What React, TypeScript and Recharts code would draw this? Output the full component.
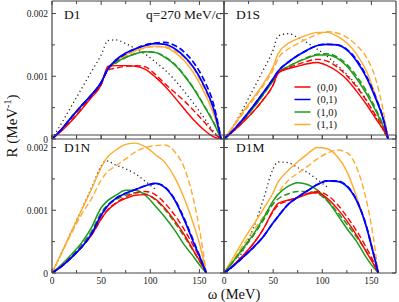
import React from 'react';
import { LineChart, Line, XAxis, YAxis } from 'recharts';

// omega grids (MeV) for each panel
const omegaD1 = [0, 10, 20, 30, 40, 50, 57, 65, 75, 85, 95, 105, 115, 125, 135, 145, 155, 165, 172];
const omegaD1S = [0, 10, 20, 30, 40, 50, 55, 65, 75, 85, 95, 105, 115, 125, 135, 145, 155, 162, 167];
const omegaLow = [0, 10, 20, 30, 40, 50, 55, 65, 75, 85, 95, 105, 115, 125, 135, 145, 150, 157];

// response R in units of 1e-3 MeV^-1
// D1
const d1Red = [0, 0.13, 0.29, 0.47, 0.66, 0.86, 1.16, 1.17, 1.17, 1.16, 1.11, 0.99, 0.84, 0.66, 0.47, 0.29, 0.14, 0.03, 0];
const d1RedDash = [0, 0.14, 0.3, 0.48, 0.67, 0.87, 1.1, 1.13, 1.16, 1.17, 1.15, 1.03, 0.88, 0.74, 0.6, 0.44, 0.27, 0.09, 0];
const d1Blue = [0, 0.16, 0.35, 0.53, 0.7, 0.9, 1.12, 1.26, 1.37, 1.44, 1.49, 1.52, 1.51, 1.44, 1.31, 1.12, 0.84, 0.45, 0];
const d1BlueDash = [0, 0.16, 0.35, 0.53, 0.7, 0.9, 1.12, 1.25, 1.36, 1.44, 1.5, 1.53, 1.54, 1.49, 1.38, 1.2, 0.93, 0.52, 0];
const d1Green = [0, 0.16, 0.35, 0.53, 0.7, 0.9, 1.12, 1.22, 1.3, 1.36, 1.39, 1.38, 1.3, 1.18, 1.0, 0.78, 0.52, 0.24, 0];
const d1GreenDash = [0, 0.16, 0.35, 0.53, 0.7, 0.9, 1.12, 1.21, 1.3, 1.36, 1.39, 1.38, 1.31, 1.19, 1.01, 0.79, 0.53, 0.25, 0];
const d1Orange = [0, 0.16, 0.35, 0.53, 0.7, 0.9, 1.12, 1.24, 1.34, 1.41, 1.46, 1.48, 1.46, 1.38, 1.24, 1.03, 0.74, 0.37, 0];
const d1OrangeDash = [0, 0.16, 0.35, 0.53, 0.7, 0.9, 1.1, 1.22, 1.32, 1.4, 1.45, 1.47, 1.47, 1.41, 1.29, 1.1, 0.8, 0.42, 0];
const d1Dot = [0, 0.26, 0.53, 0.8, 1.07, 1.34, 1.57, 1.58, 1.52, 1.44, 1.35, 1.23, 1.1, 0.94, 0.75, 0.55, 0.33, 0.11, 0];

// D1S
const d1sRed = [0, 0.13, 0.28, 0.44, 0.63, 0.86, 1.05, 1.12, 1.16, 1.2, 1.22, 1.17, 1.08, 0.95, 0.76, 0.55, 0.31, 0.15, 0];
const d1sRedDash = [0, 0.13, 0.28, 0.44, 0.63, 0.86, 1.05, 1.13, 1.19, 1.24, 1.27, 1.24, 1.15, 1.01, 0.83, 0.61, 0.36, 0.18, 0];
const d1sBlue = [0, 0.15, 0.33, 0.53, 0.74, 0.96, 1.08, 1.22, 1.33, 1.42, 1.49, 1.51, 1.5, 1.42, 1.24, 0.98, 0.62, 0.32, 0];
const d1sBlueDash = [0, 0.15, 0.33, 0.53, 0.74, 0.96, 1.08, 1.22, 1.33, 1.42, 1.49, 1.51, 1.5, 1.43, 1.26, 1.0, 0.64, 0.33, 0];
const d1sGreen = [0, 0.14, 0.31, 0.5, 0.71, 0.93, 1.05, 1.15, 1.23, 1.29, 1.34, 1.34, 1.29, 1.16, 0.96, 0.72, 0.43, 0.2, 0];
const d1sGreenDash = [0, 0.14, 0.31, 0.5, 0.71, 0.93, 1.05, 1.15, 1.23, 1.3, 1.35, 1.36, 1.31, 1.19, 1.0, 0.76, 0.46, 0.22, 0];
const d1sOrange = [0, 0.22, 0.45, 0.66, 0.88, 1.15, 1.36, 1.52, 1.6, 1.66, 1.7, 1.7, 1.64, 1.53, 1.35, 1.08, 0.66, 0.32, 0];
const d1sOrangeDash = [0, 0.2, 0.42, 0.63, 0.85, 1.1, 1.28, 1.43, 1.52, 1.6, 1.67, 1.71, 1.69, 1.62, 1.49, 1.3, 0.92, 0.45, 0];
const d1sDot = [0, 0.22, 0.5, 0.8, 1.1, 1.42, 1.64, 1.68, 1.62, 1.53, 1.43, 1.32, 1.18, 1.03, 0.85, 0.62, 0.33, 0.14, 0];

// D1N
const d1nRed = [0, 0.11, 0.25, 0.41, 0.6, 0.86, 0.97, 1.11, 1.19, 1.24, 1.25, 1.18, 1.03, 0.83, 0.6, 0.33, 0.2, 0];
const d1nRedDash = [0, 0.11, 0.25, 0.41, 0.6, 0.86, 0.98, 1.12, 1.21, 1.28, 1.3, 1.25, 1.11, 0.92, 0.68, 0.4, 0.25, 0];
const d1nBlue = [0, 0.11, 0.25, 0.41, 0.62, 0.92, 1.04, 1.19, 1.27, 1.33, 1.39, 1.43, 1.36, 1.16, 0.83, 0.45, 0.27, 0];
const d1nBlueDash = [0, 0.11, 0.25, 0.41, 0.62, 0.92, 1.04, 1.19, 1.27, 1.33, 1.39, 1.43, 1.37, 1.17, 0.85, 0.47, 0.28, 0];
const d1nGreen = [0, 0.14, 0.3, 0.48, 0.72, 1.04, 1.13, 1.24, 1.32, 1.32, 1.24, 1.07, 0.89, 0.68, 0.44, 0.24, 0.13, 0];
const d1nGreenDash = [0, 0.13, 0.28, 0.45, 0.66, 0.96, 1.06, 1.17, 1.24, 1.28, 1.26, 1.17, 1.01, 0.8, 0.57, 0.32, 0.19, 0];
const d1nOrange = [0, 0.33, 0.67, 1.0, 1.33, 1.68, 1.82, 1.96, 2.05, 2.07, 2.01, 1.89, 1.76, 1.52, 1.17, 0.73, 0.47, 0];
const d1nOrangeDash = [0, 0.32, 0.64, 0.93, 1.18, 1.48, 1.59, 1.71, 1.82, 1.93, 2.0, 2.03, 2.04, 1.93, 1.66, 1.1, 0.7, 0];
const d1nDot = [0, 0.33, 0.67, 1.01, 1.35, 1.7, 1.79, 1.72, 1.66, 1.58, 1.46, 1.34, null, null, null, null, null, null];

// D1M
const d1mRed = [0, 0.13, 0.29, 0.47, 0.7, 1.0, 1.11, 1.16, 1.2, 1.26, 1.28, 1.19, 1.03, 0.83, 0.6, 0.33, 0.2, 0];
const d1mRedDash = [0, 0.13, 0.29, 0.47, 0.7, 0.98, 1.08, 1.15, 1.21, 1.27, 1.3, 1.24, 1.1, 0.9, 0.67, 0.4, 0.25, 0];
const d1mBlue = [0, 0.12, 0.26, 0.41, 0.58, 0.8, 0.9, 1.09, 1.21, 1.31, 1.41, 1.47, 1.46, 1.38, 1.15, 0.73, 0.43, 0];
const d1mBlueDash = [0, 0.12, 0.26, 0.41, 0.58, 0.8, 0.9, 1.09, 1.21, 1.31, 1.41, 1.47, 1.47, 1.39, 1.16, 0.74, 0.44, 0];
const d1mGreen = [0, 0.2, 0.41, 0.62, 0.87, 1.15, 1.25, 1.38, 1.44, 1.41, 1.32, 1.16, 0.94, 0.71, 0.5, 0.24, 0.13, 0];
const d1mGreenDash = [0, 0.19, 0.39, 0.6, 0.84, 1.1, 1.18, 1.26, 1.3, 1.3, 1.27, 1.15, 0.98, 0.78, 0.57, 0.34, 0.21, 0];
const d1mOrange = [0, 0.26, 0.53, 0.77, 1.02, 1.28, 1.45, 1.63, 1.77, 1.9, 2.0, 1.98, 1.86, 1.62, 1.21, 0.73, 0.47, 0];
const d1mOrangeDash = [0, 0.22, 0.46, 0.68, 0.9, 1.14, 1.27, 1.47, 1.59, 1.7, 1.82, 1.91, 1.96, 1.92, 1.68, 1.15, 0.76, 0];
const d1mDot = [0, 0.12, 0.38, 0.72, 1.17, 1.66, 1.77, 1.76, 1.68, 1.6, 1.49, 1.37, null, null, null, null, null, null];

const xTicks = [0, 25, 50, 75, 100, 125, 150];
const yTicks = [0, 0.5, 1, 1.5, 2];
const legendLabels = ['(0,0)', '(0,1)', '(1,0)', '(1,1)'];

const RED = '#ff0000';
const BLUE = '#0000ff';
const GREEN = '#1f9a1f';
const ORANGE = '#ffab2e';
const FRAME = '#444';
const FONT = '"Liberation Serif", "Times New Roman", serif';

// drawing order: dotted first, blue on top
const seriesStyle = [
  { key: 'dot', color: '#222', dash: '1.2 3', width: 1.3 },
  { key: 'orangeDash', color: ORANGE, dash: '6 3', width: 1.4 },
  { key: 'orange', color: ORANGE, dash: undefined, width: 1.4 },
  { key: 'greenDash', color: GREEN, dash: '6 3', width: 1.5 },
  { key: 'green', color: GREEN, dash: undefined, width: 1.5 },
  { key: 'redDash', color: RED, dash: '6 3', width: 1.4 },
  { key: 'red', color: RED, dash: undefined, width: 1.4 },
  { key: 'blueDash', color: BLUE, dash: '6 3', width: 1.7 },
  { key: 'blue', color: BLUE, dash: undefined, width: 1.7 },
];

const makeRows = (omega: number[], s: Record<string, (number | null)[]>) =>
  omega.map((w, i) => {
    const row: Record<string, number | null> = { w };
    Object.keys(s).forEach((k) => (row[k] = s[k][i]));
    return row;
  });

const panels = [
  {
    name: 'D1', left: 0, top: -3, showX: false, showY: true,
    rows: makeRows(omegaD1, { red: d1Red, redDash: d1RedDash, blue: d1Blue, blueDash: d1BlueDash, green: d1Green, greenDash: d1GreenDash, orange: d1Orange, orangeDash: d1OrangeDash, dot: d1Dot }),
  },
  {
    name: 'D1S', left: 172, top: -3, showX: false, showY: false,
    rows: makeRows(omegaD1S, { red: d1sRed, redDash: d1sRedDash, blue: d1sBlue, blueDash: d1sBlueDash, green: d1sGreen, greenDash: d1sGreenDash, orange: d1sOrange, orangeDash: d1sOrangeDash, dot: d1sDot }),
  },
  {
    name: 'D1N', left: 0, top: 131, showX: true, showY: true,
    rows: makeRows(omegaLow, { red: d1nRed, redDash: d1nRedDash, blue: d1nBlue, blueDash: d1nBlueDash, green: d1nGreen, greenDash: d1nGreenDash, orange: d1nOrange, orangeDash: d1nOrangeDash, dot: d1nDot }),
  },
  {
    name: 'D1M', left: 172, top: 131, showX: true, showY: false,
    rows: makeRows(omegaLow, { red: d1mRed, redDash: d1mRedDash, blue: d1mBlue, blueDash: d1mBlueDash, green: d1mGreen, greenDash: d1mGreenDash, orange: d1mOrange, orangeDash: d1mOrangeDash, dot: d1mDot }),
  },
];

// each axis box is 1px, so plot area = 172 x 134 starting at (52, 4) inside each chart
const MARGIN = { top: 3, right: 3, bottom: 29, left: 51 };
const PLOT_W = 172;
const PLOT_H = 134;

const majorX = (v: number) => v % 50 === 0;
const majorY = (v: number) => v % 1 === 0;
const yLabel = (v: number) => (v === 0 ? '0' : (v / 1000).toFixed(3));
const frameLine = { stroke: FRAME, strokeWidth: 1.2 };

const Panel = ({ p }: { p: (typeof panels)[number] }) => (
  <div style={{ position: 'absolute', left: p.left, top: p.top }}>
    <LineChart width={PLOT_W + 56} height={PLOT_H + 38} data={p.rows} margin={MARGIN}>
      <XAxis xAxisId="b" type="number" dataKey="w" domain={[0, 175]} ticks={xTicks} height={1} tickSize={0} tickMargin={0}
        axisLine={frameLine} tickLine={false} allowDataOverflow interval={0}
        tick={(t: any) => (
          <g>
            <line x1={t.x} x2={t.x} y1={t.y} y2={t.y - (majorX(t.payload.value) ? 4 : 3)} stroke={FRAME} />
            {p.showX && majorX(t.payload.value) && (
              <text x={t.x} y={t.y + 11} textAnchor="middle" fontSize={9.5} fontFamily={FONT} fill="#222">{t.payload.value}</text>
            )}
          </g>
        )} />
      <XAxis xAxisId="t" orientation="top" type="number" dataKey="w" domain={[0, 175]} ticks={xTicks} height={1} tickSize={0} tickMargin={0}
        axisLine={frameLine} tickLine={false} allowDataOverflow interval={0}
        tick={(t: any) => (
          <line x1={t.x} x2={t.x} y1={t.y} y2={t.y + (majorX(t.payload.value) ? 4 : 3)} stroke={FRAME} />
        )} />
      <YAxis yAxisId="l" type="number" domain={[0, 2.2]} ticks={yTicks} width={1} tickSize={0} tickMargin={0}
        axisLine={frameLine} tickLine={false} allowDataOverflow interval={0}
        tick={(t: any) => (
          <g>
            <line x1={t.x} x2={t.x + (majorY(t.payload.value) ? 4 : 3)} y1={t.y} y2={t.y} stroke={FRAME} />
            {p.showY && majorY(t.payload.value) && (
              <text x={t.x - 4} y={t.y + 3.6} textAnchor="end" fontSize={9.5} fontFamily={FONT} fill="#222">{yLabel(t.payload.value)}</text>
            )}
          </g>
        )} />
      <YAxis yAxisId="r" orientation="right" type="number" domain={[0, 2.2]} ticks={yTicks} width={1} tickSize={0} tickMargin={0}
        axisLine={frameLine} tickLine={false} allowDataOverflow interval={0}
        tick={(t: any) => (
          <line x1={t.x} x2={t.x - (majorY(t.payload.value) ? 4 : 3)} y1={t.y} y2={t.y} stroke={FRAME} />
        )} />
      {seriesStyle.map((s) => (
        <Line key={s.key} xAxisId="b" yAxisId="l" type="monotone" dataKey={s.key} stroke={s.color} strokeWidth={s.width}
          strokeDasharray={s.dash} dot={false} activeDot={false} connectNulls isAnimationActive={false} />
      ))}
    </LineChart>
  </div>
);

const legendColors = [RED, BLUE, GREEN, ORANGE];

export default function App() {
  return (
    <div style={{ position: 'absolute', left: 0, top: 0, width: 399, height: 302, background: '#fff', overflow: 'hidden' }}>
      {panels.map((p) => (
        <Panel key={p.name} p={p} />
      ))}
      <svg width={399} height={302} style={{ position: 'absolute', left: 0, top: 0, pointerEvents: 'none' }} fontFamily={FONT} fill="#111">
        <text x={64} y={18.5} fontSize={13.5}>D1</text>
        <text x={221.5} y={18.5} fontSize={13.5} textAnchor="end">q=270 MeV/c</text>
        <text x={236} y={18.5} fontSize={13.5}>D1S</text>
        <text x={64} y={152} fontSize={13.5}>D1N</text>
        <text x={236} y={152} fontSize={13.5}>D1M</text>
        <text x={234} y={299} fontSize={14.5} textAnchor="middle">ω (MeV)</text>
        <text x={17} y={126} fontSize={15} textAnchor="middle" transform="rotate(-90 17 126)">
          R (MeV<tspan dy={-6} fontSize={10}>-1</tspan><tspan dy={6}>)</tspan>
        </text>
        {legendLabels.map((l, i) => (
          <g key={l}>
            <line x1={294.5} x2={310.5} y1={87 + i * 12.5} y2={87 + i * 12.5} stroke={legendColors[i]} strokeWidth={1.5} />
            <text x={317} y={90.5 + i * 12.5} fontSize={10.5}>{l}</text>
          </g>
        ))}
      </svg>
    </div>
  );
}
